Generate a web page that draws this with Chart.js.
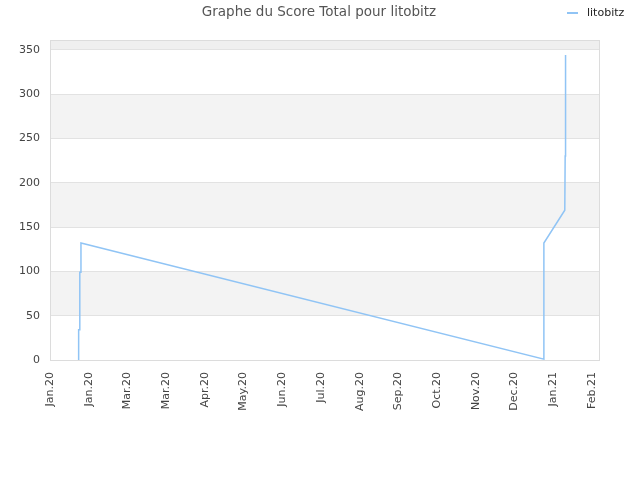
<!DOCTYPE html>
<html>
<head>
<meta charset="utf-8">
<script src="https://cdn.jsdelivr.net/npm/chart.js@4"></script>
<style>
  html, body { margin: 0; padding: 0; background: #fff; }
  #wrap { width: 640px; height: 480px; }
</style>
</head>
<body>
<div id="wrap"><canvas id="scoreChart" width="640" height="480"></canvas></div>
<script>
'use strict';

// ---- Data ----
const chartTitle = 'Graphe du Score Total pour litobitz';
const seriesName = 'litobitz';
const tickLabels = ['Jan.20', 'Jan.20', 'Mar.20', 'Mar.20', 'Apr.20', 'May.20', 'Jun.20',
  'Jul.20', 'Aug.20', 'Sep.20', 'Oct.20', 'Nov.20', 'Dec.20', 'Jan.21', 'Feb.21'];
// x positions in month-tick units (0 = first tick)
const pointX = [0.74, 0.74, 0.77, 0.77, 0.80, 0.80, 12.76, 12.76, 13.30, 13.31, 13.32];
const pointY = [0, 34, 34, 99, 99, 132, 1, 132, 169, 230, 344];
const yTicks = [0, 50, 100, 150, 200, 250, 300, 350];

Chart.defaults.font.family = "'DejaVu Sans', sans-serif";
Chart.defaults.color = '#333';

const lineColor = 'rgb(144,196,245)';

// Alternating bands + plot border
const bandsPlugin = {
  id: 'bands',
  beforeDraw(chart) {
    const { ctx, chartArea: a, scales: { y } } = chart;
    ctx.save();
    for (let v = 0; v < y.max; v += 50) {
      if ((v / 50) % 2 === 1) {
        const top = y.getPixelForValue(Math.min(v + 50, y.max));
        const bot = y.getPixelForValue(v);
        ctx.fillStyle = v >= 350 ? '#efefef' : '#f3f3f3';
        ctx.fillRect(a.left, top, a.right - a.left, bot - top);
      }
    }
    ctx.restore();
  },
  afterDatasetsDraw(chart) {
    const { ctx, chartArea: a } = chart;
    ctx.save();
    ctx.strokeStyle = '#dcdcdc';
    ctx.lineWidth = 1;
    ctx.strokeRect(a.left + 0.5, a.top + 0.5, a.right - a.left - 1, a.bottom - a.top);
    ctx.restore();
  }
};

// Title and legend drawn above the plot
const headerPlugin = {
  id: 'header',
  afterDraw(chart) {
    const { ctx } = chart;
    ctx.save();
    ctx.font = "13.5px 'DejaVu Sans', sans-serif";
    ctx.fillStyle = '#555';
    ctx.textAlign = 'center';
    ctx.textBaseline = 'middle';
    ctx.fillText(chartTitle, 319, 12);

    ctx.fillStyle = lineColor;
    ctx.fillRect(567, 12, 11, 2);
    ctx.font = "11px 'DejaVu Sans', sans-serif";
    ctx.fillStyle = '#222';
    ctx.textAlign = 'left';
    ctx.fillText(seriesName, 587, 13);
    ctx.restore();
  }
};

new Chart(document.getElementById('scoreChart').getContext('2d'), {
  type: 'line',
  data: {
    datasets: [{
      label: seriesName,
      data: pointX.map((x, i) => ({ x, y: pointY[i] })),
      borderColor: lineColor,
      backgroundColor: lineColor,
      borderWidth: 1.5,
      pointRadius: 0,
      tension: 0,
      fill: false,
    }]
  },
  options: {
    responsive: false,
    animation: false,
    layout: { padding: { top: 40, right: 40, left: 0, bottom: 0 } },
    plugins: {
      title: { display: false },
      tooltip: { enabled: false },
      legend: { display: false }
    },
    scales: {
      x: {
        type: 'linear',
        min: 0,
        max: 14.21,
        grid: { display: false, drawTicks: false },
        border: { display: false },
        afterBuildTicks(scale) {
          scale.ticks = tickLabels.map((_, i) => ({ value: i }));
        },
        ticks: {
          autoSkip: false,
          minRotation: 90,
          maxRotation: 90,
          padding: 12,
          font: { size: 11 },
          color: '#444',
          callback: (v) => tickLabels[v]
        },
        afterFit(scale) { scale.height = 120; }
      },
      y: {
        min: 0,
        max: 361,
        afterBuildTicks(scale) {
          scale.ticks = yTicks.map(v => ({ value: v }));
        },
        grid: { color: '#e2e2e2', drawTicks: false },
        border: { display: false },
        ticks: { padding: 10, font: { size: 11 }, color: '#444' },
        afterFit(scale) { scale.width = 50; }
      }
    }
  },
  plugins: [bandsPlugin, headerPlugin]
});
</script>
</body>
</html>
